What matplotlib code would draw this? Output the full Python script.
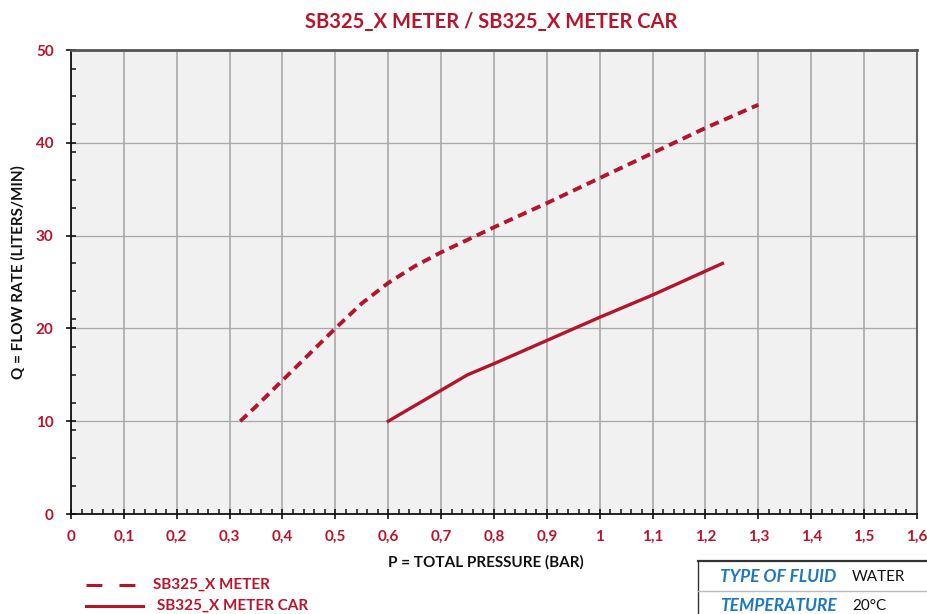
import numpy as np
import matplotlib
matplotlib.use('Agg')
import matplotlib.pyplot as plt
from matplotlib.lines import Line2D
from matplotlib.ticker import MultipleLocator

# ── Data ─────────────────────────────────────────────────────────────────────
meter_p = [0.32, 0.35, 0.40, 0.45, 0.50, 0.55, 0.60, 0.65, 0.70, 0.80, 0.90,
           1.00, 1.10, 1.20, 1.30]
meter_q = [10.0, 11.6, 14.4, 17.2, 20.0, 22.7, 24.9, 26.7, 28.2, 30.9, 33.5,
           36.2, 38.9, 41.6, 44.1]

car_p = [0.60, 0.75, 0.80, 0.90, 1.00, 1.10, 1.232]
car_q = [10.0, 15.0, 16.2, 18.7, 21.2, 23.6, 27.0]

x_ticks = [0, 0.1, 0.2, 0.3, 0.4, 0.5, 0.6, 0.7, 0.8, 0.9, 1.0,
           1.1, 1.2, 1.3, 1.4, 1.5, 1.6]
x_labels = ['0', '0,1', '0,2', '0,3', '0,4', '0,5', '0,6', '0,7', '0,8',
            '0,9', '1', '1,1', '1,2', '1,3', '1,4', '1,5', '1,6']
y_ticks = [0, 10, 20, 30, 40, 50]

RED = '#b8142a'
LINE_RED = '#b3152b'
BLUE = '#1c78bf'
FONT = ['Lato', 'DejaVu Sans']

plt.rcParams['font.family'] = FONT

fig = plt.figure(figsize=(9.28, 6.14), dpi=100, facecolor='white')
ax = fig.add_axes([71 / 928, 1 - 514 / 614, 846 / 928, 464 / 614])
ax.set_facecolor('#f1f1f1')

ax.plot(meter_p, meter_q, color=LINE_RED, lw=2.8, dashes=(2.4, 1.5),
        solid_capstyle='butt', zorder=3)
ax.plot(car_p, car_q, color=LINE_RED, lw=2.4, zorder=3)

ax.set_xlim(0, 1.6)
ax.set_ylim(0, 50)
ax.set_xticks(x_ticks)
ax.set_xticklabels(x_labels)
ax.set_yticks(y_ticks)
ax.xaxis.set_minor_locator(MultipleLocator(0.02))
ax.yaxis.set_minor_locator(MultipleLocator(3))

ax.grid(True, axis='x', which='major', color='#b4b4b4', lw=1.4, zorder=0)
ax.grid(True, axis='y', which='major', color='#a8a8a8', lw=0.9, zorder=0)
ax.set_axisbelow(True)

ax.tick_params(axis='both', which='major', direction='inout', length=7,
               width=1.2, color='#111111', labelcolor=RED, labelsize=11)
ax.tick_params(axis='both', which='minor', direction='in', length=3.5,
               width=1.1, color='#111111')
ax.tick_params(axis='x', which='major', pad=8)
ax.tick_params(axis='y', which='major', pad=9)
for lab in ax.get_xticklabels() + ax.get_yticklabels():
    lab.set_fontweight('bold')

ax.spines['left'].set_color('#111111')
ax.spines['left'].set_linewidth(1.3)
ax.spines['bottom'].set_color('#111111')
ax.spines['bottom'].set_linewidth(1.3)
ax.spines['top'].set_color('#555555')
ax.spines['top'].set_linewidth(2.0)
ax.spines['right'].set_color('#666666')
ax.spines['right'].set_linewidth(1.5)

ax.set_xlabel('P = TOTAL PRESSURE (BAR)', fontsize=11, fontweight='bold',
              color='#111111', va='center')
ax.xaxis.set_label_coords((486 - 71) / 846, -(562 - 514) / 464)
ax.set_ylabel('Q = FLOW RATE (LITERS/MIN)', fontsize=11, fontweight='bold',
              color='#111111', va='center')
ax.yaxis.set_label_coords(-(71 - 18) / 846, (514 - 272) / 464)

fig.text(491 / 928, 1 - 22 / 614, 'SB325_X METER / SB325_X METER CAR',
         ha='center', va='center', fontsize=14.5, fontweight='bold', color=RED)

# ── Legend (bottom left) ─────────────────────────────────────────────────────
fig.add_artist(Line2D([86 / 928, 136 / 928], [1 - 585 / 614] * 2,
                      transform=fig.transFigure, color=LINE_RED, lw=2.2,
                      dashes=(5.2, 5.6)))
fig.add_artist(Line2D([86 / 928, 143 / 928], [1 - 606 / 614] * 2,
                      transform=fig.transFigure, color=LINE_RED, lw=2.2))
fig.text(153 / 928, 1 - 585 / 614, 'SB325_X METER', ha='left', va='center',
         fontsize=11, fontweight='bold', color=RED)
fig.text(157 / 928, 1 - 606 / 614, 'SB325_X METER CAR', ha='left', va='center',
         fontsize=11, fontweight='bold', color=RED)

# ── Fluid info box (bottom right) ────────────────────────────────────────────
fig.add_artist(Line2D([698 / 928, 1.0], [1 - 561 / 614] * 2,
                      transform=fig.transFigure, color='#333333', lw=1.6))
fig.add_artist(Line2D([698 / 928, 698 / 928], [0, 1 - 561 / 614],
                      transform=fig.transFigure, color='#333333', lw=1.0))
fig.add_artist(Line2D([698 / 928, 1.0], [1 - 591 / 614] * 2,
                      transform=fig.transFigure, color='#bbbbbb', lw=1.0))
fig.text(720 / 928, 1 - 577 / 614, 'TYPE OF FLUID', ha='left', va='center',
         fontsize=12.5, fontweight='bold', fontstyle='italic', color=BLUE)
fig.text(852 / 928, 1 - 577 / 614, 'WATER', ha='left', va='center',
         fontsize=11, color='#111111')
fig.text(720 / 928, 1 - 606 / 614, 'TEMPERATURE', ha='left', va='center',
         fontsize=12.5, fontweight='bold', fontstyle='italic', color=BLUE)
fig.text(852 / 928, 1 - 606 / 614, '20°C', ha='left', va='center',
         fontsize=11, color='#111111')

fig.savefig('out.png', dpi=100, facecolor='white')
